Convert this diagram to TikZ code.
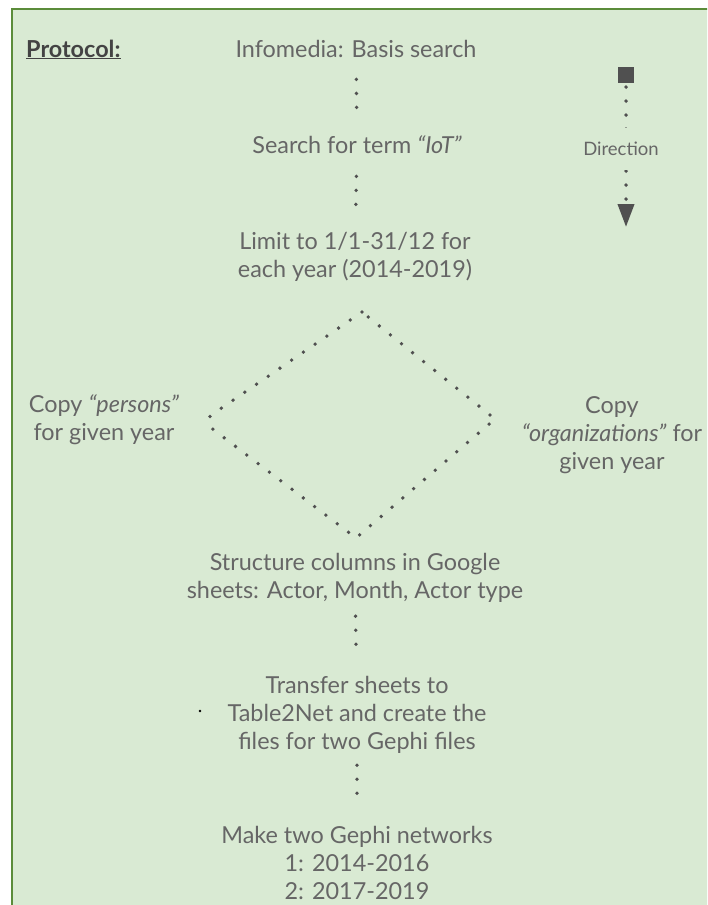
\documentclass[tikz,border=0pt]{standalone}
\usepackage{fontspec}
\setmainfont{Lato}
\usetikzlibrary{arrows.meta, positioning}
\definecolor{sheetgreen}{HTML}{D9EAD3}
\definecolor{framegreen}{HTML}{5B8C3A}
\definecolor{textgray}{HTML}{666666}
\definecolor{headgray}{HTML}{434343}
\definecolor{dotgray}{HTML}{505050}

\begin{document}
\begin{tikzpicture}[
    x=1pt, y=-1pt,
    stage/.style={text=textgray, font=\fontsize{23.4}{28}\selectfont, align=center, inner sep=0pt, anchor=base},
    dots/.style={draw=dotgray, line width=3.8pt, line cap=round, dash pattern=on 0pt off 14pt}
]
    \clip (0,0) rectangle (707,905);

    % Sheet
    \fill[sheetgreen, draw=framegreen, line width=2.5pt] (12,9) rectangle (730,930);

    % Steps (multi-line nodes sit on their last line)
    \node[stage, anchor=base west, text=headgray, font=\fontsize{23.4}{28}\selectfont\bfseries] (protocol) at (26,57) {\underline{Protocol:}};
    \node[stage] (basis) at (356,57) {Infomedia: Basis search};
    \node[stage] (term) at (357,153) {Search for term \textit{“IoT”}};
    \node[stage] (limit) at (355,277) {Limit to 1/1-31/12 for\\each year (2014-2019)};
    \node[stage] (persons) at (104,440) {Copy \textit{“persons”}\\for given year};
    \node[stage] (orgs) at (612,469) {Copy\\\textit{“organizations”} for\\given year};
    \node[stage] (columns) at (355,598) {Structure columns in Google\\sheets: Actor, Month, Actor type};
    \node[stage] (transfer) at (357,749) {Transfer sheets to\\Table2Net and create the\\files for two Gephi files};
    \node[stage] (gephi) at (357,899) {Make two Gephi networks\\1: 2014-2016\\2: 2017-2019};

    % Dotted links
    \draw[dots, shorten <=22pt, shorten >=25pt] (basis) -- (term);
    \draw[dots, shorten <=23pt, shorten >=24pt] (term) -- (limit);
    \draw[dots, shorten <=14pt, shorten >=24pt] (columns) -- (transfer);
    \draw[dots, shorten <=12pt, shorten >=24pt] (transfer) -- (gephi);

    % Diamond
    \coordinate (dtop) at (362,312);
    \coordinate (dleft) at (210,416);
    \coordinate (dbottom) at (356,538);
    \coordinate (dright) at (495,419);
    \draw[dots, dash pattern=on 0pt off 14.2pt] (dtop) -- (dleft) -- ++(0,11) -- (dbottom) -- (dright) -- cycle;

    % Direction
    \coordinate (dirtail) at (626,67);
    \coordinate (dirhead) at (626,227);
    \draw[dots, dash phase=8pt, {Square[length=16pt, width=16pt]}-{Triangle[length=23pt, width=16pt]}] (dirtail) -- (dirhead);
    \node[fill=sheetgreen, text=textgray, font=\fontsize{18.5}{22}\selectfont, minimum height=42pt, inner sep=0pt] (direction) at (621,149) {Direction};

    \fill (200,711) circle (1.3pt);
\end{tikzpicture}
\end{document}
